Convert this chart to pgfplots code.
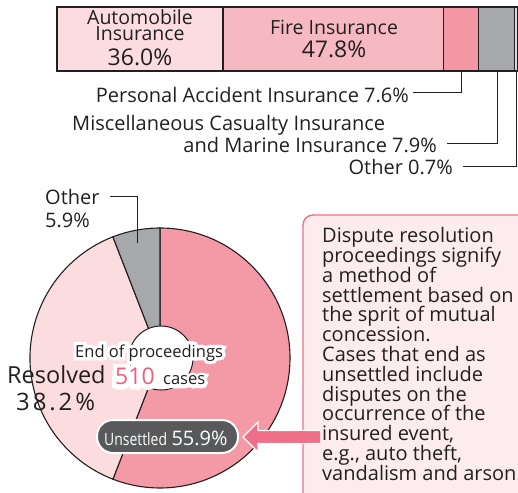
\documentclass[border=0pt]{standalone}
\usepackage{pgfplots}
\pgfplotsset{compat=1.18}
\usepackage{fontspec}
\setmainfont{Open Sans}
\newfontfamily\halofont[FakeBold=40]{Open Sans}
\usepackage{graphicx}
\definecolor{ink}{HTML}{231F20}
\definecolor{autoC}{HTML}{FBDCE0}
\definecolor{fireC}{HTML}{F7B9C1}
\definecolor{paC}{HTML}{F297A3}
\definecolor{miscC}{HTML}{A6A8AB}
\definecolor{othC}{HTML}{D9DADB}
\definecolor{unsC}{HTML}{F39AA6}
\definecolor{resC}{HTML}{FBDDE0}
\definecolor{noteFill}{HTML}{FDECEE}
\definecolor{noteLine}{HTML}{EE7189}
\definecolor{arrowC}{HTML}{EF6F88}
\definecolor{boxDark}{HTML}{58595B}
\definecolor{numPink}{HTML}{EE5F7E}
\newcommand\fs[1]{\fontsize{#1}{#1}\selectfont}
\newcommand\halo[4]{%
  \node[#1, text=white] at (#2) {\halofont\fs{#3}#4};
  \node[#1] at (#2) {\fs{#3}#4};}
\pgfplotsset{topbar/.style={x filter/.expression={57+4.61*x}, y filter/.expression={421+64*y}, draw=ink, line width=1.1pt}}
\begin{document}
\begin{tikzpicture}
\clip (0,0) rectangle (518pt,492pt);

\begin{axis}[at={(0,0)}, anchor=south west, scale only axis,
  width=518pt, height=492pt, xmin=0, xmax=518, ymin=0, ymax=492,
  hide axis, clip=false]
% ---------- top bar (shares in %: 36.0, 47.8, 7.6, 7.9, 0.7) ----------
\addplot[topbar, fill=autoC] coordinates {(0,0) (36.0,0) (36.0,1) (0,1)} -- cycle;
\addplot[topbar, fill=fireC] coordinates {(36.0,0) (83.8,0) (83.8,1) (36.0,1)} -- cycle;
\addplot[topbar, fill=paC] coordinates {(83.8,0) (91.4,0) (91.4,1) (83.8,1)} -- cycle;
\addplot[topbar, fill=miscC] coordinates {(91.4,0) (99.3,0) (99.3,1) (91.4,1)} -- cycle;
\addplot[topbar, fill=othC] coordinates {(99.3,0) (100,0) (100,1) (99.3,1)} -- cycle;
% ---------- pie (Unsettled 55.9, Resolved 38.2, Other 5.9) ----------
\pgfmathsetmacro\aA{90}
\pgfmathsetmacro\aB{90-3.6*55.9}
\pgfmathsetmacro\aC{\aB-3.6*38.2}
\pgfmathsetmacro\aD{\aC-3.6*5.9}
\filldraw[fill=unsC, draw=ink, line width=1.1pt] (axis cs:160,134) -- ++(\aA:130pt) arc[start angle=\aA, end angle=\aB, radius=130pt] -- cycle;
\filldraw[fill=resC, draw=ink, line width=1.1pt] (axis cs:160,134) -- ++(\aB:130pt) arc[start angle=\aB, end angle=\aC, radius=130pt] -- cycle;
\filldraw[fill=miscC, draw=ink, line width=1.1pt] (axis cs:160,134) -- ++(\aC:130pt) arc[start angle=\aC, end angle=\aD, radius=130pt] -- cycle;
\filldraw[fill=white, draw=ink, line width=1pt] (axis cs:161,134) circle[radius=32pt];
\end{axis}

\begin{scope}[x=1pt, y=1pt]
\tikzset{every node/.style={inner sep=0pt, text=ink}}
\node[anchor=south, align=center, font=\fontsize{19.5}{16}\selectfont] at (140,426) {Automobile\\Insurance\\[7pt]{\fs{23}36.0\%}};
\node[anchor=base, font=\fs{19.5}] at (334,457) {Fire Insurance};
\node[anchor=base, font=\fs{23}] at (334,434) {47.8\%};

% leader lines top
\draw[ink, line width=0.9pt] (461,421) |- (413,400);
\draw[ink, line width=0.9pt] (497,421) |- (447,349);
\draw[ink, line width=0.9pt] (516.5,421) |- (463,326);
\node[anchor=base east, font=\fs{20}] at (409,389) {Personal Accident Insurance 7.6\%};
\node[anchor=base west, font=\fs{20}] at (72,361) {Miscellaneous Casualty Insurance};
\node[anchor=base east, font=\fs{20}] at (437,339) {and Marine Insurance 7.9\%};
\node[anchor=base east, font=\fs{20}] at (453,317) {Other 0.7\%};

% other label
\draw[ink, line width=0.9pt] (110,296) -| (137,249);
\node[anchor=base west, font=\fs{20}] at (45,287) {Other};
\node[anchor=base west, font=\fs{20}] at (45,264) {5.9\%};

\node[anchor=base west, font=\fs{23.5}] at (7,109) {Resolved};
\node[anchor=base west, font=\fs{24}\addfontfeatures{LetterSpace=12}] at (16,82) {38.2\%};

\halo{anchor=base west}{75,135}{16.5}{End of proceedings}
\halo{anchor=base west, text=numPink}{115,107}{23}{510}
\halo{anchor=base west}{163,107}{16.5}{cases}

% unsettled box
\draw[fill=boxDark, draw=white, line width=2pt, rounded corners=16pt] (97,39) rectangle (238,72);
\node[anchor=base west, text=white, font=\fs{17}] at (104,47) {\scalebox{0.82}[1]{Unsettled} {\fs{20}55.9\%}};

% ---------- note box ----------
\begin{scope}[overlay]
\draw[fill=noteFill, draw=noteLine, line width=1.4pt, rounded corners=10pt]
  (303,-30) rectangle (560,277);
\foreach \t [count=\i from 0] in {Dispute resolution,proceedings signify,a method of,settlement based on,the sprit of mutual,concession.,Cases that end as,unsettled include,disputes on the,occurrence of the,{insured event,},{e.g., auto theft,},vandalism and arson.}
  {\node[anchor=base west, font=\fs{20}] at (322,{249-19.75*\i}) {\t};}
\end{scope}

% arrow
\draw[fill=arrowC, draw=white, line width=1.2pt] (320,61.5) -- (258,61.5) -- (258,70) -- (243,55) -- (258,40) -- (258,48.5) -- (320,48.5);
\fill[arrowC] (300,49.1) rectangle (306,60.9);
\end{scope}
\end{tikzpicture}
\end{document}
